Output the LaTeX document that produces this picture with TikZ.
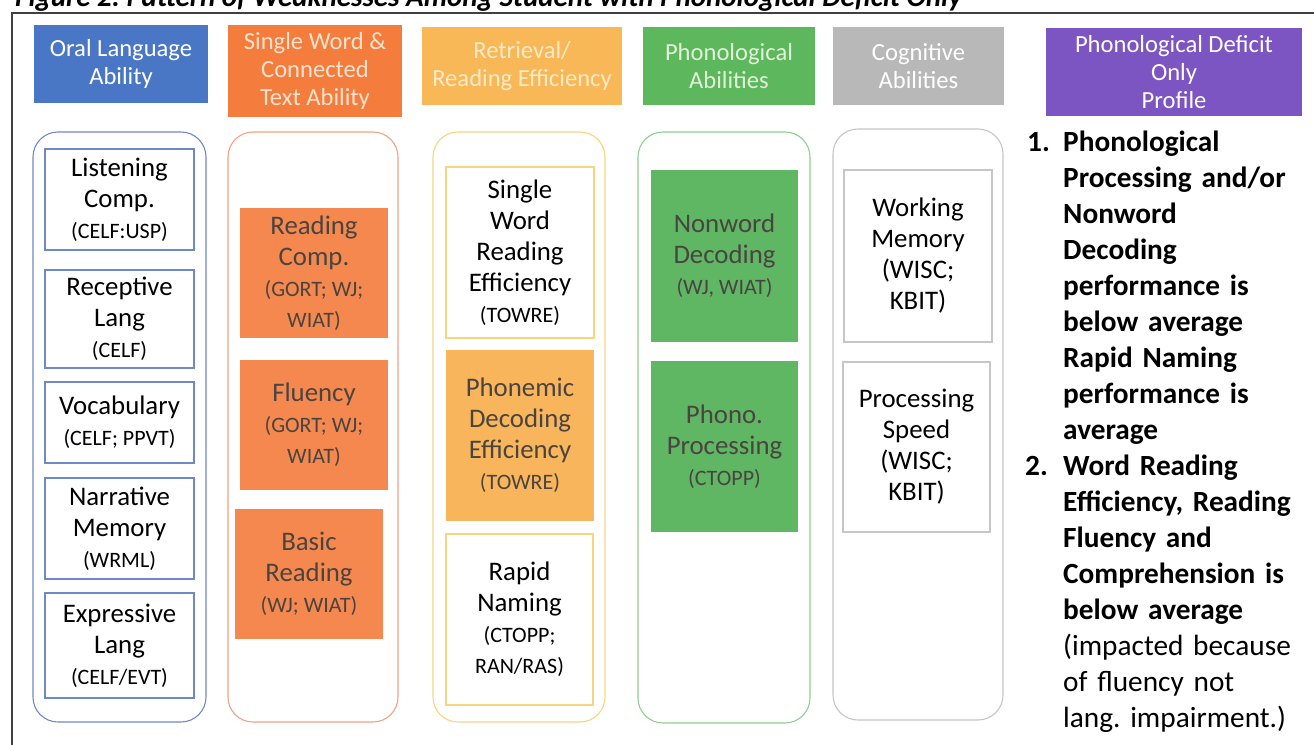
\documentclass[tikz,border=0pt]{standalone}
\usepackage{fontspec}
\setmainfont{Carlito}
\usepackage{tikz}
\usetikzlibrary{positioning}
\frenchspacing

\definecolor{hdblue}{HTML}{4A77C5}
\definecolor{lnblue}{HTML}{6F88C6}
\definecolor{hdorange}{HTML}{F47D3E}
\definecolor{fiorange}{HTML}{F5884F}
\definecolor{lnorange}{HTML}{F2A285}
\definecolor{txorange}{HTML}{FBE2CC}
\definecolor{hdyellow}{HTML}{F9B857}
\definecolor{fiyellow}{HTML}{F8B55B}
\definecolor{lnyellow}{HTML}{F7D480}
\definecolor{txyellow}{HTML}{FCEBC6}
\definecolor{hdgreen}{HTML}{5DB75D}
\definecolor{figreen}{HTML}{5FB663}
\definecolor{lngreen}{HTML}{92CD92}
\definecolor{txgreen}{HTML}{E2F2D8}
\definecolor{hdgray}{HTML}{B8B8B8}
\definecolor{lngray}{HTML}{C6C6C6}
\definecolor{hdpurple}{HTML}{7C55C2}
\definecolor{txdark}{HTML}{4A4440}

\newcommand{\testname}[1]{{\fontsize{22}{26}\selectfont #1}}

\begin{document}
\begin{tikzpicture}[x = 1pt, y = -1pt,
  head/.style = {rectangle, inner sep = 0pt, align = center, font = \fontsize{24.6}{28}\selectfont},
  column/.style = {rectangle, rounded corners = 25pt, line width = 1.1pt},
  cell/.style = {rectangle, inner sep = 0pt, align = center, line width = 1.1pt, font = \fontsize{26.8}{31}\selectfont},
  note/.style = {inner sep = 0pt, text width = 248pt, align = left, font = \fontsize{29.3}{36}\selectfont},
  ]

\useasboundingbox (0,0) rectangle (1314,744);
\fill[white] (0,0) rectangle (1314,744);

\node[anchor = base west, inner sep = 0pt, font = \fontsize{29}{34}\selectfont\bfseries\itshape] (Title) at (15,6) {Figure 2: Pattern of Weaknesses Among Student with Phonological Deficit Only};
\draw[line width = 1.3pt, black!75] (12,13) rectangle (1340,770);

% oral language
\begin{scope}[shift = {(119.5,0)}]
\node[head, fill = hdblue, text = white, minimum width = 174pt, minimum height = 78pt] (Head1) at (1.5,64) {Oral Language\\Ability};
\node[column, draw = lnblue, minimum width = 173pt, minimum height = 590pt] (Col1) at (0,427) {};
\node[cell, draw = lnblue, minimum width = 149pt, minimum height = 101pt] (Box11) at (0,199.5) {Listening\\Comp.\\\testname{(CELF:USP)}};
\node[cell, draw = lnblue, minimum width = 149pt, minimum height = 98pt] (Box12) at (0,319) {Receptive\\Lang\\\testname{(CELF)}};
\node[cell, draw = lnblue, minimum width = 149pt, minimum height = 81pt] (Box13) at (0,422.5) {Vocabulary\\\testname{(CELF; PPVT)}};
\node[cell, draw = lnblue, minimum width = 149pt, minimum height = 101pt] (Box14) at (0,528.5) {Narrative\\Memory\\\testname{(WRML)}};
\node[cell, draw = lnblue, minimum width = 149pt, minimum height = 105pt] (Box15) at (0,645.5) {Expressive\\Lang\\\testname{(CELF/EVT)}};
\end{scope}

% single word and connected text
\begin{scope}[shift = {(313,0)}]
\node[head, fill = hdorange, text = txorange, minimum width = 174pt, minimum height = 92pt] (Head2) at (2,71) {Single Word \&\\Connected\\Text Ability};
\node[column, draw = lnorange, minimum width = 170pt, minimum height = 590pt] (Col2) at (0,427) {};
\node[cell, fill = fiorange, text = txdark, minimum width = 148pt, minimum height = 130pt] (Box21) at (1,273) {Reading\\Comp.\\\testname{(GORT; WJ;}\\\testname{WIAT)}};
\node[cell, fill = fiorange, text = txdark, minimum width = 148pt, minimum height = 130pt] (Box22) at (1,425) {Fluency\\\testname{(GORT; WJ;}\\\testname{WIAT)}};
\node[cell, fill = fiorange, text = txdark, minimum width = 148pt, minimum height = 130pt] (Box23) at (-4,574) {Basic\\Reading\\\testname{(WJ; WIAT)}};
\end{scope}

% retrieval
\begin{scope}[shift = {(519,0)}]
\node[head, fill = hdyellow, text = txyellow, minimum width = 200pt, minimum height = 78pt] (Head3) at (3,66) {Retrieval/\\Reading Efficiency};
\node[column, draw = lnyellow, minimum width = 172pt, minimum height = 590pt] (Col3) at (0,427) {};
\node[cell, draw = lnyellow, minimum width = 148pt, minimum height = 171pt] (Box31) at (1,252.5) {Single\\Word\\Reading\\Efficiency\\\testname{(TOWRE)}};
\node[cell, fill = fiyellow, text = txdark, minimum width = 148pt, minimum height = 171pt] (Box32) at (1,435.5) {Phonemic\\Decoding\\Efficiency\\\testname{(TOWRE)}};
\node[cell, draw = lnyellow, minimum width = 147pt, minimum height = 171pt] (Box33) at (0.5,619.5) {Rapid\\Naming\\\testname{(CTOPP;}\\\testname{RAN/RAS)}};
\end{scope}

% phonological
\begin{scope}[shift = {(724,0)}]
\node[head, fill = hdgreen, text = txgreen, minimum width = 172pt, minimum height = 78pt] (Head4) at (5,66) {Phonological\\Abilities};
\node[column, draw = lngreen, minimum width = 172pt, minimum height = 591pt] (Col4) at (0,427.5) {};
\node[cell, fill = figreen, text = txdark, minimum width = 147pt, minimum height = 172pt] (Box41) at (0.5,256) {Nonword\\Decoding\\\testname{(WJ, WIAT)}};
\node[cell, fill = figreen, text = txdark, minimum width = 147pt, minimum height = 171pt] (Box42) at (0.5,446.5) {Phono.\\Processing\\\testname{(CTOPP)}};
\end{scope}

% cognitive
\begin{scope}[shift = {(918,0)}]
\node[head, fill = hdgray, text = white, minimum width = 171pt, minimum height = 78pt] (Head5) at (0.5,66) {Cognitive\\Abilities};
\node[column, draw = lngray, minimum width = 170pt, minimum height = 591pt] (Col5) at (0,424.5) {};
\node[cell, draw = lngray, minimum width = 148pt, minimum height = 172pt] (Box51) at (0,256) {Working\\Memory\\(WISC;\\KBIT)};
\node[cell, draw = lngray, minimum width = 147pt, minimum height = 170pt] (Box52) at (-1.5,447) {Processing\\Speed\\(WISC;\\KBIT)};
\end{scope}

% profile
\node[head, fill = hdpurple, text = white, minimum width = 256pt, minimum height = 88pt] (Head6) at (1174,72) {Phonological Deficit\\Only\\Profile};
\node[note, anchor = base west, text width = 30pt, font = \fontsize{29.3}{36}\selectfont\bfseries] (Num1) at (1027,151) {1.};
\node[note, anchor = base west] (Item1) at (1063,151) {\bfseries Phonological\\Processing and/or\\Nonword\\Decoding\\performance is\\below average\\Rapid Naming\\performance is\\average};
\node[note, anchor = base west, text width = 30pt, font = \fontsize{29.3}{36}\selectfont\bfseries] (Num2) at (1025,475) {2.};
\node[note, anchor = base west] (Item2) at (1063,475) {\bfseries Word Reading\\Efficiency, Reading\\Fluency and\\Comprehension is\\below average\\\mdseries (impacted because\\of fluency not\\lang. impairment.)};

\end{tikzpicture}
\end{document}
